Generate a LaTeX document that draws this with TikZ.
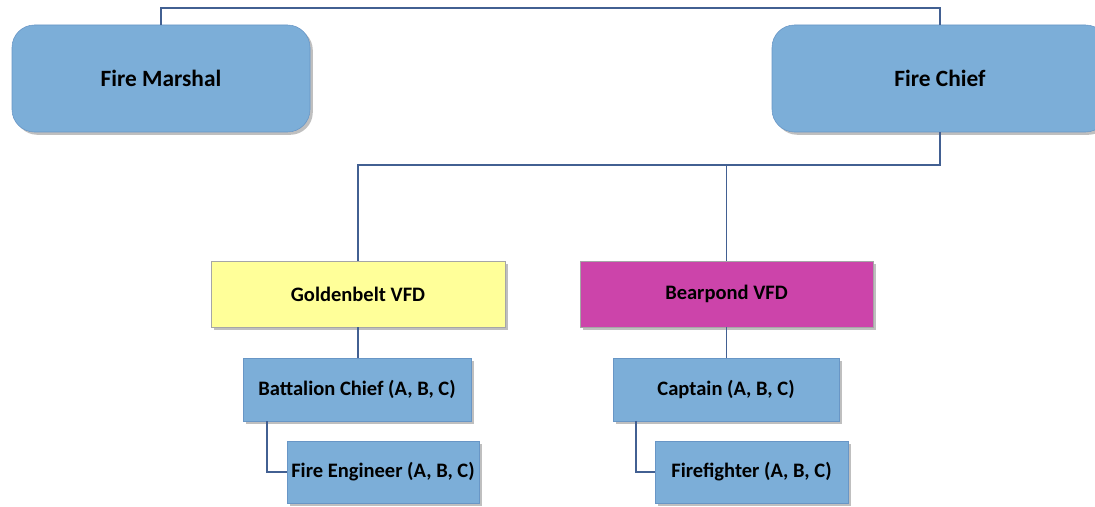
\documentclass[tikz,border=0pt]{standalone}
\usepackage{fontspec}
\setmainfont{Carlito}
\usepackage{tikz}
\usetikzlibrary{shadows}

\definecolor{roleblue}{RGB}{124,174,216}
\definecolor{roleedge}{RGB}{104,150,198}
\definecolor{linkblue}{RGB}{66,96,146}
\definecolor{deptyellow}{RGB}{255,255,153}
\definecolor{deptpink}{RGB}{204,68,170}

\begin{document}
\begin{tikzpicture}[
  x=0.025cm,y=0.025cm,
  chief/.style={draw=roleedge,fill=roleblue,rounded corners=16pt,align=center,
                font=\fontsize{16.6}{18}\selectfont\bfseries,
                drop shadow={shadow xshift=2pt,shadow yshift=-2pt,opacity=0.5}},
  dept/.style={draw=gray!70,align=center,font=\fontsize{14.6}{16}\selectfont\bfseries,
               drop shadow={shadow xshift=2pt,shadow yshift=-2pt,opacity=0.5}},
  rank/.style={draw=roleedge,fill=roleblue,align=center,inner xsep=2pt,
               font=\fontsize{14.6}{16}\selectfont\bfseries,
               drop shadow={shadow xshift=2pt,shadow yshift=-2pt,opacity=0.5}},
  link/.style={draw=linkblue,line width=1.3pt}
]
\useasboundingbox (0,0) rectangle (1095,506);
% top level
\node[chief,minimum width=298*0.025cm,minimum height=107*0.025cm] (marshal) at (161,427.5) {Fire Marshal};
\node[chief,minimum width=336*0.025cm,minimum height=107*0.025cm] (firechief) at (940,427.5) {Fire Chief};
% departments
\node[dept,fill=deptyellow,minimum width=294*0.025cm,minimum height=66*0.025cm] (golden) at (358,212) {Goldenbelt VFD};
\node[dept,fill=deptpink,minimum width=293*0.025cm,minimum height=66*0.025cm] (bear) at (726.5,212) {Bearpond VFD};
% ranks
\node[rank,minimum width=228*0.025cm,minimum height=63*0.025cm] (battalion) at (357,116.5) {Battalion Chief (A, B, C)};
\node[rank,minimum width=192*0.025cm,minimum height=62*0.025cm] (engineer) at (383,34) {Fire Engineer (A, B, C)};
\node[rank,minimum width=226*0.025cm,minimum height=63*0.025cm] (captain) at (726,116.5) {Captain (A, B, C)};
\node[rank,minimum width=193*0.025cm,minimum height=62*0.025cm] (fighter) at (751.5,34) {Firefighter (A, B, C)};
% connectors
\draw[link] (marshal.north) -- ++(0,17) -| (firechief.north);
\draw[link] (firechief.south) -- ++(0,-33) coordinate (split) -| (golden.north);
\draw[link] (split) -| (bear.north);
\draw[link] (golden.south) -- (golden.south |- battalion.north);
\draw[link] (bear.south) -- (bear.south |- captain.north);
\draw[link] (battalion.south west) ++(24,0) |- (engineer.west);
\draw[link] (captain.south west) ++(23,0) |- (fighter.west);
\end{tikzpicture}
\end{document}
